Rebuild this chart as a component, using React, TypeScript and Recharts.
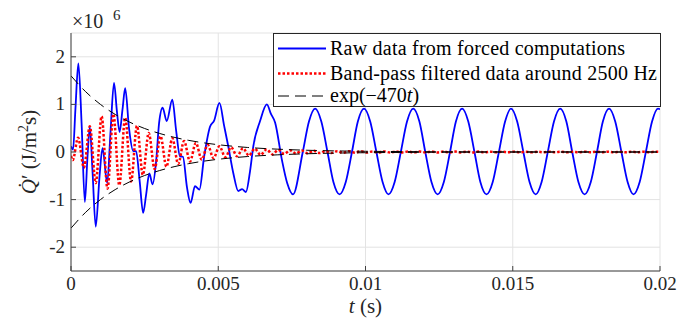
import React from 'react';
import { LineChart, Line, XAxis, YAxis, CartesianGrid } from 'recharts';

// Raw data from forced computations (t in s, Q' in 1e6 J/m^2 s)
const rawT = [
  0, 0.00007, 0.00015, 0.00025, 0.00036, 0.00047, 0.00056, 0.00064, 0.00073, 0.00084,
  0.00097, 0.00107, 0.00123, 0.00134, 0.00146, 0.00156, 0.00165, 0.00175, 0.00184, 0.00197,
  0.00211, 0.00221, 0.00233, 0.00245, 0.00255, 0.00266, 0.00277, 0.00289, 0.00299, 0.00311,
  0.00325, 0.00344, 0.00357, 0.0037, 0.0038, 0.00394, 0.00406, 0.00421, 0.00436, 0.00452,
  0.00472, 0.00486, 0.00504, 0.0052, 0.00534, 0.00551, 0.00568, 0.00581, 0.00594, 0.00608,
  0.00619, 0.00642, 0.00665, 0.00679, 0.00693, 0.00716, 0.00734, 0.00754,
  0.00787, 0.00808, 0.00829, 0.0085, 0.00871, 0.00891, 0.00912, 0.00933, 0.00954, 0.00974,
  0.00995, 0.01016, 0.01037, 0.01058, 0.01078, 0.01099, 0.0112, 0.01141, 0.01162, 0.01183,
  0.01203, 0.01224, 0.01245, 0.01266, 0.01287, 0.01307, 0.01328, 0.01349, 0.0137, 0.0139,
  0.01411, 0.01432, 0.01453, 0.01474, 0.01494, 0.01515, 0.01536, 0.01557, 0.01578, 0.01598,
  0.01619, 0.0164, 0.01661, 0.01682, 0.01702, 0.01723, 0.01744, 0.01765, 0.01786, 0.01806,
  0.01827, 0.01848, 0.01869, 0.0189, 0.0191, 0.01931, 0.01952, 0.01973, 0.01993, 0.02,
];
const rawQ = [
  0.12, 0.05, 0.9, 1.86, 0.6, -1.05, -0.1, 0.52, -0.4, -1.57,
  -0.5, 0.08, -0.65, 0.4, 1.45, 0.85, 0.42, 0.9, 1.34, 0.5,
  0.02, 0.02, -0.6, -1.28, -0.9, -0.45, -0.68, -0.2, 0.6, 0.93,
  0.65, 1.1, 0.45, -0.09, -0.1, -0.75, -1.07, -0.72, -0.79, -0.1,
  0.53, 0.66, 1.03, 0.55, 0.12, -0.44, -0.82, -0.78, -0.84, -0.4,
  0.12, 0.65, 1.0, 0.8, 0.62, -0.16, -0.65, -0.89,
  0.0, 0.64, 0.91, 0.64, 0.0, -0.63, -0.89, -0.63, 0.0, 0.64,
  0.91, 0.64, 0.0, -0.63, -0.89, -0.63, 0.0, 0.64, 0.91, 0.64,
  0.0, -0.63, -0.89, -0.63, 0.0, 0.64, 0.91, 0.64, 0.0, -0.63,
  -0.89, -0.63, 0.0, 0.64, 0.91, 0.64, 0.0, -0.63, -0.89, -0.63,
  0.0, 0.64, 0.91, 0.64, 0.0, -0.63, -0.89, -0.63, 0.0, 0.64,
  0.91, 0.64, 0.0, -0.63, -0.89, -0.63, 0.0, 0.64, 0.91, 0.9,
];

// Band-pass filtered data around 2500 Hz (peaks and troughs)
const filtT = [
  0, 0.00006, 0.00024, 0.00044, 0.00064, 0.00084, 0.00104, 0.00124, 0.00144, 0.00164, 0.00184,
  0.00204, 0.00224, 0.00244, 0.00264, 0.00284, 0.00304, 0.00324, 0.00344, 0.00364, 0.00384,
  0.00404, 0.00424, 0.00444, 0.00464, 0.00484, 0.00504, 0.00524, 0.00544, 0.00564, 0.00584,
  0.00604, 0.00624, 0.00644, 0.00664, 0.00684, 0.00704, 0.00724, 0.00744, 0.00764, 0.00784,
  0.00804, 0.00824, 0.00844, 0.00864, 0.00884, 0.00904, 0.00924, 0.00944, 0.00964, 0.00984,
  0.01004, 0.01024, 0.01044, 0.01064, 0.01084, 0.01104, 0.01124, 0.01144, 0.01164, 0.01184,
  0.01204, 0.01224, 0.01244, 0.01264, 0.01284, 0.01304, 0.01324, 0.01344, 0.01364, 0.01384,
  0.01404, 0.01424, 0.01444, 0.01464, 0.01484, 0.01504, 0.01524, 0.01544, 0.01564, 0.01584,
  0.01604, 0.01624, 0.01644, 0.01664, 0.01684, 0.01704, 0.01724, 0.01744, 0.01764, 0.01784,
  0.01804, 0.01824, 0.01844, 0.01864, 0.01884, 0.01904, 0.01924, 0.01944, 0.01964, 0.01984, 0.02,
];
const filtQ = [
  -0.08, -0.17, 0.3, -0.33, 0.54, -0.65, 0.75, -0.77, 0.8, -0.7, 0.72,
  -0.62, 0.55, -0.48, 0.4, -0.36, 0.33, -0.31, 0.29, -0.25, 0.23,
  -0.2, 0.19, -0.16, 0.15, -0.13, 0.12, -0.11, 0.1, -0.09, 0.08,
  -0.075, 0.07, -0.06, 0.055, -0.05, 0.045, -0.04, 0.035, -0.032, 0.03,
  -0.028, 0.025, -0.023, 0.02, -0.02, 0.018, -0.017, 0.016, -0.015, 0.014,
  -0.013, 0.012, -0.012, 0.011, -0.011, 0.01, -0.01, 0.01, -0.01, 0.01,
  -0.01, 0.009, -0.009, 0.009, -0.009, 0.008, -0.008, 0.008, -0.008, 0.008,
  -0.008, 0.007, -0.007, 0.007, -0.007, 0.007, -0.007, 0.007, -0.007, 0.007,
  -0.006, 0.006, -0.006, 0.006, -0.006, 0.006, -0.006, 0.006, -0.006, 0.006,
  -0.006, 0.006, -0.006, 0.006, -0.006, 0.006, -0.006, 0.006, -0.006, 0.006, 0.0,
];

// exp(-470t) envelope (scaled), upper and lower branches
const envT = [
  0, 0.0005, 0.001, 0.0015, 0.002, 0.0025, 0.003, 0.0035, 0.004, 0.0045, 0.005,
  0.0055, 0.006, 0.007, 0.008, 0.009, 0.01, 0.012, 0.014, 0.016, 0.018, 0.02,
];
const envUpper = [
  1.6, 1.265, 1.0, 0.79, 0.625, 0.494, 0.391, 0.309, 0.244, 0.193, 0.153,
  0.121, 0.095, 0.06, 0.037, 0.023, 0.015, 0.006, 0.002, 0.001, 0.0, 0.0,
];
const envLower = [
  -1.6, -1.265, -1.0, -0.79, -0.625, -0.494, -0.391, -0.309, -0.244, -0.193, -0.153,
  -0.121, -0.095, -0.06, -0.037, -0.023, -0.015, -0.006, -0.002, -0.001, 0.0, 0.0,
];

const xTicks = [0, 0.005, 0.01, 0.015, 0.02];
const yTicks = [-2, -1, 0, 1, 2];

const legendLabels = [
  'Raw data from forced computations',
  'Band-pass filtered data around 2500 Hz',
];

const rawData = rawT.map((t, i) => ({ t, q: rawQ[i] }));
const filtData = filtT.map((t, i) => ({ t, q: filtQ[i] }));
const upperData = envT.map((t, i) => ({ t, q: envUpper[i] }));
const lowerData = envT.map((t, i) => ({ t, q: envLower[i] }));

const FONT = "'Liberation Serif', monospace";
const AXIS = '#404040';
const TXT: React.CSSProperties = { fontFamily: FONT };

const XTick = (props: any) => (
  <text x={props.x} y={props.y + 24} textAnchor="middle" fontFamily="Liberation Serif" style={TXT} fontSize={19} fill="#262626">
    {String(props.payload.value)}
  </text>
);
const YTick = (props: any) => (
  <text x={props.x} y={props.y + 6} textAnchor="end" fontFamily="Liberation Serif" style={TXT} fontSize={19} fill="#262626">
    {String(props.payload.value)}
  </text>
);

export default function App() {
  return (
    <div style={{ position: 'absolute', left: 0, top: 0, width: 686, height: 327, background: '#fff', fontFamily: FONT }}>
      <LineChart width={686} height={327} data={rawData} margin={{ top: 33, right: 26, left: 0, bottom: 0 }}>
        <CartesianGrid stroke="#e3e3e3" strokeWidth={1} />
        <XAxis
          dataKey="t"
          type="number"
          domain={[0, 0.02]}
          ticks={xTicks}
          height={56}
          tickSize={-5}
          tickMargin={0}
          stroke={AXIS}
          tick={<XTick />}
          allowDataOverflow
        />
        <XAxis
          xAxisId="top"
          orientation="top"
          dataKey="t"
          type="number"
          domain={[0, 0.02]}
          ticks={xTicks}
          height={0}
          tickSize={-5}
          stroke={AXIS}
          tickFormatter={() => ''}
        />
        <YAxis
          type="number"
          domain={[-2.5, 2.5]}
          ticks={yTicks}
          width={71}
          tickSize={-5}
          tickMargin={11}
          stroke={AXIS}
          tick={<YTick />}
          allowDataOverflow
        />
        <YAxis
          yAxisId="right"
          orientation="right"
          type="number"
          domain={[-2.5, 2.5]}
          ticks={yTicks}
          width={0}
          tickSize={-5}
          stroke={AXIS}
          tickFormatter={() => ''}
        />
        <Line data={rawData} dataKey="q" type="monotone" stroke="#0000ff" strokeWidth={1.8} dot={false} isAnimationActive={false} />
        <Line data={filtData} dataKey="q" type="monotone" stroke="#ff0000" strokeWidth={2.5} strokeDasharray="2.5 2" dot={false} isAnimationActive={false} />
        <Line data={upperData} dataKey="q" type="monotone" stroke="#000" strokeWidth={1} strokeDasharray="11 6" dot={false} isAnimationActive={false} />
        <Line data={lowerData} dataKey="q" type="monotone" stroke="#000" strokeWidth={1} strokeDasharray="11 6" dot={false} isAnimationActive={false} />
      </LineChart>
      <svg width={686} height={327} fontFamily="Liberation Serif" style={{ position: 'absolute', left: 0, top: 0, pointerEvents: 'none', fontFamily: FONT }}>
        {/* exponent label */}
        <text x={72} y={28} style={TXT} fontSize={20} fill="#262626">×10</text>
        <text x={113} y={20} style={TXT} fontSize={15} fill="#262626">6</text>
        {/* y label */}
        <text transform="translate(36,152) rotate(-90)" textAnchor="middle" style={TXT} fontSize={21} fill="#262626">
          <tspan fontStyle="italic">{'Q\u0307'}</tspan>
          <tspan>{'\u2032 (J/m'}</tspan>
          <tspan fontSize={14} dy={-8}>2</tspan>
          <tspan dy={8}>s)</tspan>
        </text>
        {/* x label */}
        <text x={365.5} y={313} textAnchor="middle" style={TXT} fontSize={21} fill="#262626">
          <tspan fontStyle="italic">t</tspan>
          <tspan> (s)</tspan>
        </text>
        {/* legend */}
        <rect x={273.5} y={33.5} width={387} height={73} fill="#fff" stroke="#262626" strokeWidth={1} />
        <line x1={278} y1={48.5} x2={326} y2={48.5} stroke="#0000ff" strokeWidth={1.8} />
        <line x1={278} y1={73.5} x2={326} y2={73.5} stroke="#ff0000" strokeWidth={2.5} strokeDasharray="2.5 2" />
        <line x1={278} y1={96} x2={326} y2={96} stroke="#000" strokeWidth={1} strokeDasharray="11 6" />
        <text x={330} y={55} style={TXT} fontSize={20} fill="#000" textLength={295} lengthAdjust="spacing">{legendLabels[0]}</text>
        <text x={330} y={80} style={TXT} fontSize={20} fill="#000" textLength={327} lengthAdjust="spacing">{legendLabels[1]}</text>
        <text x={330} y={102} style={TXT} fontSize={20} fill="#000">
          <tspan>{'exp(\u2212470'}</tspan>
          <tspan fontStyle="italic">t</tspan>
          <tspan>)</tspan>
        </text>
      </svg>
    </div>
  );
}
